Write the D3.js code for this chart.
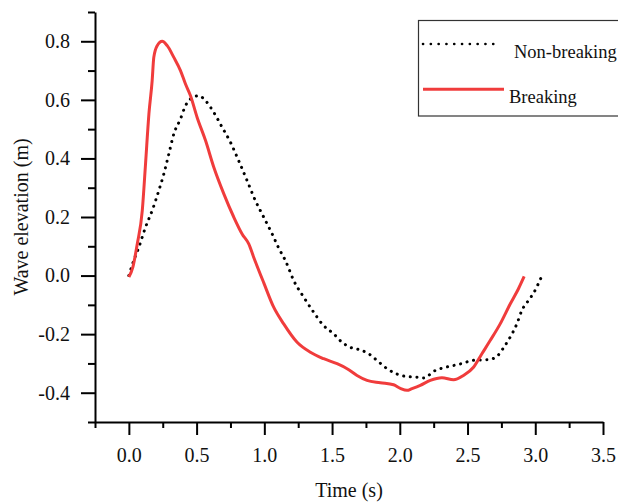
<!DOCTYPE html>
<html>
<head>
<meta charset="utf-8">
<script src="https://cdn.jsdelivr.net/npm/d3@7"></script>
<style>
  html, body { margin: 0; padding: 0; background: #fff; }
  svg { display: block; }
  text { font-family: "Liberation Serif", "DejaVu Serif", serif; fill: #111; }
</style>
</head>
<body>
<svg id="chart" width="618" height="502"></svg>
<script>
// Time (s) and wave elevation (m) for the breaking wave
const breakingTime = [0.00, 0.03, 0.062, 0.099, 0.123, 0.148, 0.172, 0.184, 0.209, 0.246, 0.283, 0.332, 0.381, 0.418, 0.455, 0.504, 0.566, 0.627, 0.701, 0.774, 0.836, 0.885, 0.922, 0.996, 1.069, 1.143, 1.242, 1.340, 1.438, 1.537, 1.611, 1.684, 1.758, 1.856, 1.954, 2.004, 2.053, 2.090, 2.151, 2.225, 2.311, 2.397, 2.470, 2.544, 2.606, 2.667, 2.741, 2.815, 2.876, 2.918];
const breakingElev = [-0.005, 0.03, 0.108, 0.222, 0.381, 0.552, 0.666, 0.745, 0.785, 0.800, 0.785, 0.745, 0.700, 0.654, 0.614, 0.540, 0.461, 0.370, 0.279, 0.200, 0.142, 0.108, 0.062, -0.025, -0.108, -0.165, -0.228, -0.262, -0.284, -0.301, -0.318, -0.341, -0.358, -0.366, -0.373, -0.385, -0.392, -0.386, -0.375, -0.358, -0.349, -0.356, -0.341, -0.313, -0.267, -0.222, -0.165, -0.097, -0.045, -0.003];

// Time (s) and wave elevation (m) for the non-breaking wave
const nonBreakingTime = [0.00, 0.035, 0.074, 0.123, 0.172, 0.221, 0.258, 0.295, 0.332, 0.381, 0.418, 0.455, 0.516, 0.566, 0.627, 0.689, 0.750, 0.811, 0.873, 0.934, 0.996, 1.058, 1.106, 1.156, 1.217, 1.291, 1.364, 1.438, 1.512, 1.574, 1.635, 1.709, 1.770, 1.832, 1.906, 1.979, 2.053, 2.127, 2.176, 2.212, 2.262, 2.323, 2.397, 2.470, 2.532, 2.594, 2.655, 2.717, 2.765, 2.815, 2.864, 2.901, 2.950, 2.987, 3.045];
const nonBreakingElev = [0.00, 0.05, 0.097, 0.165, 0.222, 0.290, 0.347, 0.415, 0.484, 0.535, 0.580, 0.603, 0.614, 0.597, 0.557, 0.506, 0.455, 0.392, 0.324, 0.256, 0.199, 0.142, 0.094, 0.051, -0.017, -0.074, -0.125, -0.171, -0.199, -0.228, -0.245, -0.254, -0.267, -0.290, -0.318, -0.336, -0.345, -0.347, -0.350, -0.341, -0.324, -0.315, -0.307, -0.299, -0.290, -0.288, -0.287, -0.276, -0.247, -0.210, -0.165, -0.119, -0.085, -0.060, -0.005];

// Axis ticks
const xTicks = [0.0, 0.5, 1.0, 1.5, 2.0, 2.5, 3.0, 3.5];
const xMinorTicks = [-0.25, 0.25, 0.75, 1.25, 1.75, 2.25, 2.75, 3.25];
const yTicks = [-0.4, -0.2, 0.0, 0.2, 0.4, 0.6, 0.8];
const yMinorTicks = [-0.5, -0.3, -0.1, 0.1, 0.3, 0.5, 0.7, 0.9];

const seriesNames = ["Non-breaking", "Breaking"];

const FONT = '"Liberation Serif", "DejaVu Serif", serif';

const svg = d3.select("#chart");
const x = d3.scaleLinear().domain([-0.25, 3.5]).range([95, 603]);
const y = d3.scaleLinear().domain([-0.5, 0.9]).range([422, 12]);

// Minor ticks
svg.append("g")
  .attr("transform", "translate(0,422)")
  .call(d3.axisBottom(x).tickValues(xMinorTicks).tickSize(6).tickFormat(""))
  .call(g => g.select(".domain").remove())
  .call(g => g.selectAll("line").attr("stroke", "#000").attr("stroke-width", 2));
svg.append("g")
  .attr("transform", "translate(95,0)")
  .call(d3.axisLeft(y).tickValues(yMinorTicks).tickSize(7).tickFormat(""))
  .call(g => g.select(".domain").remove())
  .call(g => g.selectAll("line").attr("stroke", "#000").attr("stroke-width", 2));

// Major axes
const xAxis = svg.append("g")
  .attr("transform", "translate(0,422)")
  .call(d3.axisBottom(x).tickValues(xTicks).tickSize(13).tickPadding(13).tickFormat(d3.format(".1f")).tickSizeOuter(0));
const yAxis = svg.append("g")
  .attr("transform", "translate(95,0)")
  .call(d3.axisLeft(y).tickValues(yTicks).tickSize(14).tickPadding(11).tickFormat(d3.format(".1f")).tickSizeOuter(0));

[xAxis, yAxis].forEach(ax => {
  ax.attr("font-family", null);
  ax.select(".domain").attr("stroke", "#000").attr("stroke-width", 2);
  ax.selectAll("line").attr("stroke", "#000").attr("stroke-width", 2);
  ax.selectAll("text").attr("font-size", 20).style("font-family", FONT).attr("fill", "#111");
});
yAxis.selectAll("text").text(d => d < 0 ? "-" + Math.abs(d).toFixed(1) : d.toFixed(1));

// Axis titles
svg.append("text")
  .attr("x", 349).attr("y", 497)
  .attr("text-anchor", "middle").attr("font-size", 20)
  .style("font-family", FONT)
  .text("Time (s)");
svg.append("text")
  .attr("transform", "translate(28,217) rotate(-90)")
  .attr("text-anchor", "middle").attr("font-size", 20)
  .style("font-family", FONT)
  .text("Wave elevation (m)");

// Curves
const line = d3.line()
  .x(d => x(d[0])).y(d => y(d[1]))
  .curve(d3.curveMonotoneX);

const nbData = nonBreakingTime.map((t, i) => [t, nonBreakingElev[i]]);
const bData = breakingTime.map((t, i) => [t, breakingElev[i]]);

svg.append("path")
  .datum(nbData)
  .attr("d", line)
  .attr("fill", "none")
  .attr("stroke", "#000")
  .attr("stroke-width", 3)
  .attr("stroke-linecap", "round")
  .attr("stroke-dasharray", "0.1 6.6");

svg.append("path")
  .datum(bData)
  .attr("d", line)
  .attr("fill", "none")
  .attr("stroke", "#f03c3c")
  .attr("stroke-width", 3)
  .attr("stroke-linejoin", "round");

// Legend
const legend = svg.append("g");
legend.append("rect")
  .attr("x", 418.5).attr("y", 20.5)
  .attr("width", 210).attr("height", 95.5)
  .attr("fill", "#fff").attr("stroke", "#333").attr("stroke-width", 1.2);
legend.append("line")
  .attr("x1", 423).attr("x2", 500).attr("y1", 44).attr("y2", 44)
  .attr("stroke", "#000").attr("stroke-width", 2.6)
  .attr("stroke-linecap", "round").attr("stroke-dasharray", "0.1 7.7");
legend.append("text")
  .attr("x", 514).attr("y", 57.5).attr("font-size", 18.5)
  .style("font-family", FONT)
  .text(seriesNames[0]);
legend.append("line")
  .attr("x1", 423).attr("x2", 504).attr("y1", 89.3).attr("y2", 89.3)
  .attr("stroke", "#f03c3c").attr("stroke-width", 3);
legend.append("text")
  .attr("x", 509).attr("y", 103).attr("font-size", 18.5)
  .style("font-family", FONT)
  .text(seriesNames[1]);
</script>
</body>
</html>
